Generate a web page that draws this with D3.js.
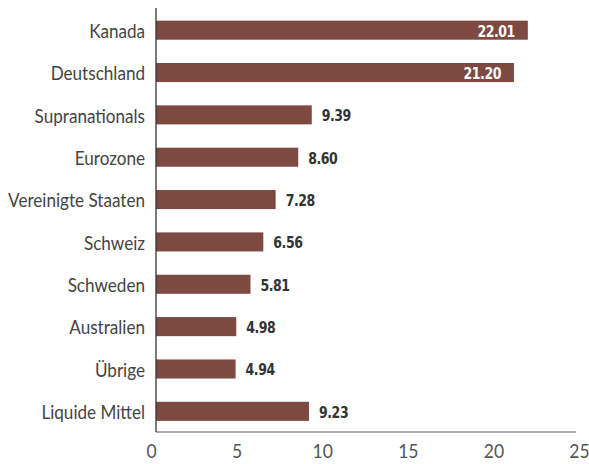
<!DOCTYPE html>
<html><head><meta charset="utf-8">
<script src="https://cdn.jsdelivr.net/npm/d3@7"></script>
<style>body{margin:0;background:#fff}svg{display:block}</style>
</head><body>
<svg id="chart" width="589" height="464"></svg>
<script>
const categories = ["Kanada","Deutschland","Supranationals","Eurozone","Vereinigte Staaten","Schweiz","Schweden","Australien","Übrige","Liquide Mittel"];
const values = [22.01,21.20,9.39,8.60,7.28,6.56,5.81,4.98,4.94,9.23];
const tickValues = [0,5,10,15,20,25];
const insideLabels = ["Kanada","Deutschland"];

const svg = d3.select("#chart");
const axisX0 = 156;
const x = d3.scaleLinear().domain([0,25]).range([151,579]);
const y = d3.scaleBand().domain(categories).range([9,432.5]).paddingInner(0.55).paddingOuter(0.275);
const barColor = "#7c4a41";
const labelFont = "Lato, 'Open Sans', sans-serif";

// bars
svg.append("g").selectAll("rect").data(categories).join("rect")
  .attr("x", axisX0)
  .attr("y", d => y(d))
  .attr("width", (d,i) => x(values[i]) - axisX0)
  .attr("height", y.bandwidth())
  .attr("fill", barColor);

// category labels (horizontally condensed)
const catG = svg.append("g");
const cats = catG.selectAll("text").data(categories).join("text")
  .attr("text-anchor","end")
  .attr("dy","0.35em")
  .attr("font-family", labelFont)
  .attr("font-size", 19.5)
  .attr("fill","#444")
  .text(d => d);
let refW = 0;
cats.each(function(d){ if (d === "Vereinigte Staaten") refW = this.getComputedTextLength(); });
const sx = refW > 0 ? 137 / refW : 0.85;
cats.attr("transform", d => `translate(145,${y(d) + y.bandwidth()/2 + 1}) scale(${sx},1)`);

// value labels
svg.append("g").selectAll("text").data(categories).join("text")
  .attr("dy","0.35em")
  .attr("text-anchor", d => insideLabels.includes(d) ? "end" : "start")
  .attr("font-family","'DejaVu Sans Condensed','DejaVu Sans',sans-serif")
  .attr("font-weight","bold")
  .attr("font-size", 15.5)
  .attr("letter-spacing", -0.5)
  .attr("fill", d => insideLabels.includes(d) ? "#fff" : "#333")
  .attr("transform", (d,i) => {
    const tx = insideLabels.includes(d) ? x(values[i]) - 13 : x(values[i]) + 10;
    return `translate(${tx},${y(d) + y.bandwidth()/2 + 1}) scale(0.9,1)`;
  })
  .text((d,i) => values[i].toFixed(2));

// x axis
const xAxis = d3.axisBottom(x).tickValues(tickValues).tickSize(0).tickPadding(12).tickFormat(d3.format("d"));
const gx = svg.append("g").attr("transform","translate(0,432)").call(xAxis);
gx.select(".domain").remove();
gx.selectAll("text").attr("font-family", labelFont).attr("font-size", 20).attr("fill","#555")
  .attr("transform", `scale(${sx},1)`);
svg.append("line").attr("x1", axisX0).attr("x2", 576).attr("y1", 432).attr("y2", 432)
  .attr("stroke","#aaa").attr("stroke-width",2);

// y axis line
svg.append("line").attr("x1", axisX0).attr("x2", axisX0).attr("y1", 8).attr("y2", 432)
  .attr("stroke","#333").attr("stroke-width",1.3);
</script>
</body></html>
